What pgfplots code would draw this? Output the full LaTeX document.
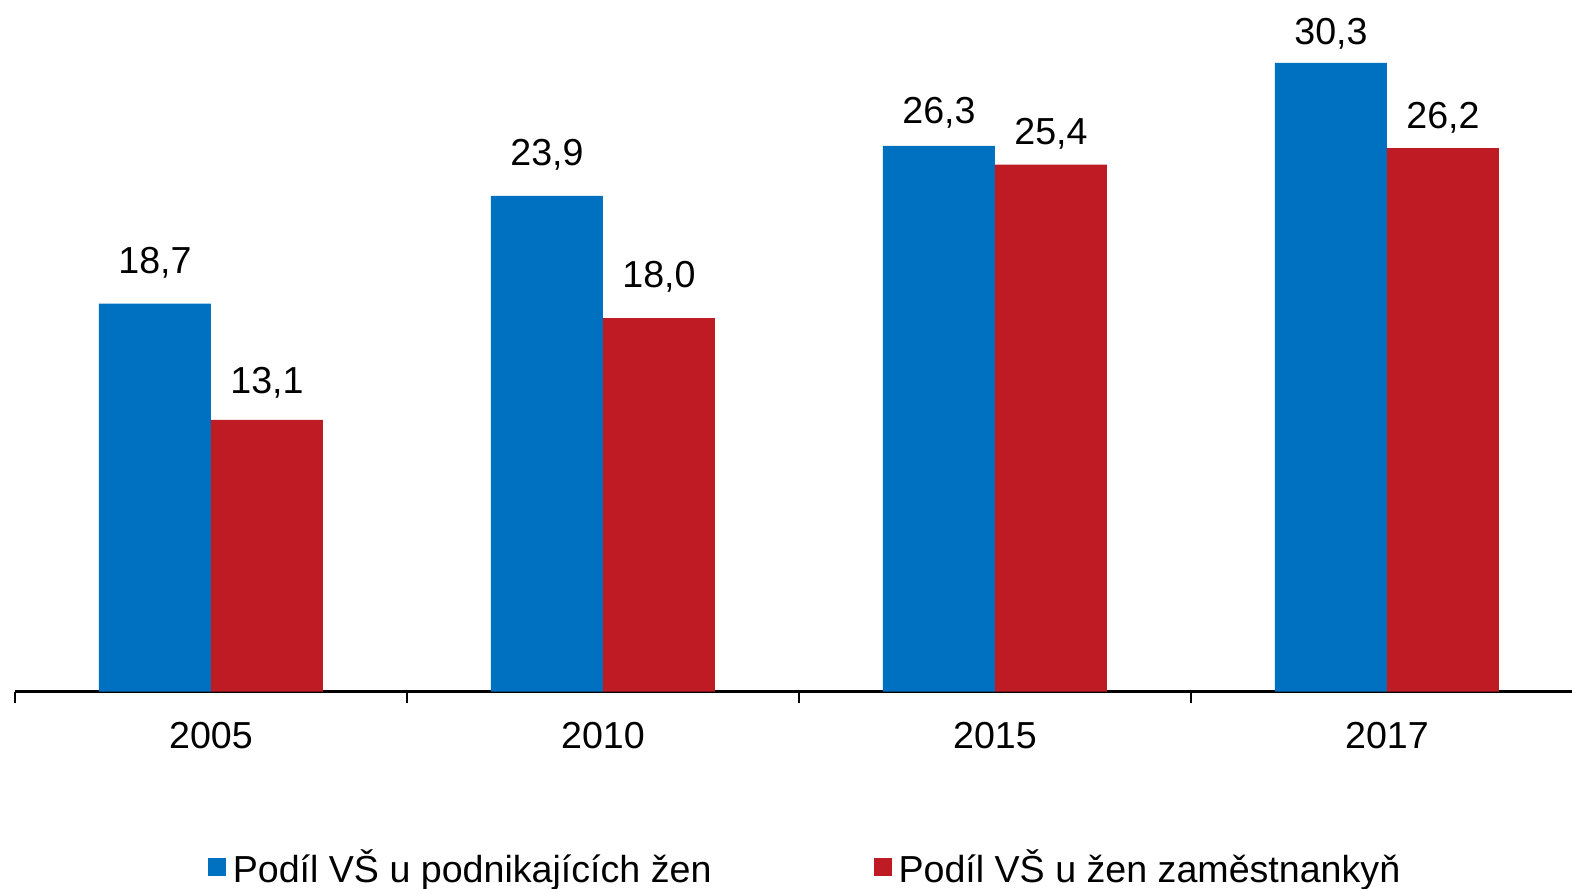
\documentclass[border=0pt]{standalone}
\usepackage{pgfplots}
\usepackage{pgfplotstable}
\pgfplotsset{compat=1.18}
\usepackage{fontspec}
\setmainfont{Liberation Sans}
\definecolor{cblue}{RGB}{0,112,192}
\definecolor{cred}{RGB}{190,27,36}
\newcommand\f{\fontsize{10.7pt}{12.8pt}\selectfont}
\pgfplotstableread{
x y off
0 18.7 3.0
1 23.9 3.0
2 26.3 2.2
3 30.3 1.8
}\blue
\pgfplotstableread{
x y off
0 13.1 2.6
1 18.0 3.1
2 25.4 2.0
3 26.2 2.0
}\red
\begin{document}
\begin{tikzpicture}
\path[use as bounding box] (0,0) rectangle (157.2mm,88.8mm);
\begin{axis}[
  at={(1.5mm,19.63mm)}, anchor=south west,
  scale only axis, width=155.7mm, height=66.4mm,
  ymin=0, ymax=32, xmin=-0.5, xmax=3.472,
  ybar=0pt, bar width=11.2mm,
  axis y line=none, axis x line*=bottom,
  ytick=\empty,
  xtick={0,1,2,3},
  xticklabels={2005,2010,2015,2017},
  major tick length=0pt,
  minor xtick={-0.5,0.5,1.5,2.5},
  minor tick length=1.1mm,
  tick align=outside,
  x axis line style={line width=0.8pt},
  every tick/.style={black, line width=0.8pt},
  xticklabel style={font=\f, anchor=base, yshift=-5.7mm},
  visualization depends on={\thisrow{off} \as \myoff},
  nodes near coords={\pgfmathprintnumber[fixed,fixed zerofill,precision=1,use comma,assume math mode=true]{\pgfplotspointmeta}},
  every node near coord/.append style={font=\f, anchor=base, yshift=\myoff mm, inner sep=0pt},
  legend columns=2,
  legend style={draw=none, fill=none, font=\f, at={(0.509,-0.267)}, anchor=center,
    /tikz/every even column/.append style={column sep=15.5mm}},
  legend image code/.code={\fill[#1,draw=none] (0mm,-0.75mm) rectangle (1.8mm,1.05mm);},
]
\addplot[fill=cblue, draw=none] table[x=x,y=y] {\blue};
\addplot[fill=cred, draw=none] table[x=x,y=y] {\red};
\legend{Podíl VŠ u podnikajících žen, Podíl VŠ u žen zaměstnankyň}
\end{axis}
\end{tikzpicture}
\end{document}
